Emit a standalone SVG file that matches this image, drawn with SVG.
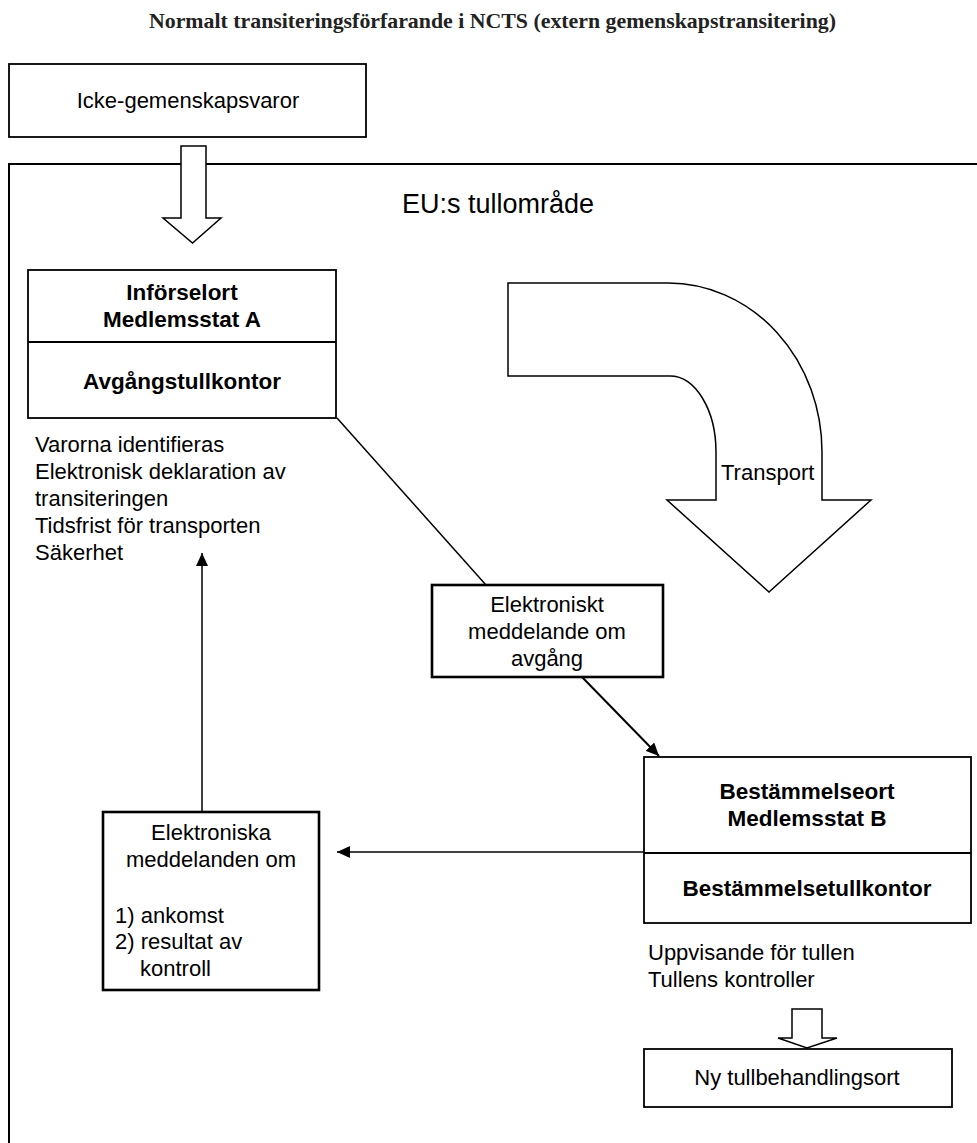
<svg xmlns="http://www.w3.org/2000/svg" width="977" height="1143" viewBox="0 0 977 1143">
<defs>
<style>
.t{font-family:"Liberation Sans",Arial,sans-serif;font-size:22px;fill:#000}
.b{font-weight:bold;font-size:22.5px}
.m{text-anchor:middle}
.box{fill:#fff;stroke:#000;stroke-width:1.8}
.thick{fill:#fff;stroke:#000;stroke-width:2.6}
.blk{fill:#fff;stroke:#000;stroke-width:1.5;stroke-linejoin:miter}
.ln{stroke:#000;stroke-width:1.5;fill:none}
</style>
<marker id="ah" markerUnits="userSpaceOnUse" markerWidth="14" markerHeight="12" refX="13" refY="6" orient="auto">
<path d="M0,0 L13,6 L0,12 z" fill="#000"/>
</marker>
</defs>
<rect width="977" height="1143" fill="#fff"/>
<text x="149" y="28" font-family="'Liberation Serif','Times New Roman',serif" font-weight="bold" font-size="21" fill="#222" textLength="687" lengthAdjust="spacingAndGlyphs">Normalt transiteringsförfarande i NCTS (extern gemenskapstransitering)</text>

<g id="eu-frame">
<path d="M977,164 L9,164 L9,1143" fill="none" stroke="#000" stroke-width="2"/>
<text class="t m" x="498" y="213" style="font-size:27px">EU:s tullområde</text>
</g>

<g id="icke">
<rect class="box" x="9" y="64" width="357" height="73"/>
<text class="t m" x="188" y="108">Icke-gemenskapsvaror</text>
</g>

<g id="entry-arrow">
<path class="blk" d="M181,146 L206,146 L206,218 L221,218 L192.5,243 L163,218 L181,218 Z"/>
</g>

<g id="inforselort">
<rect class="box" x="28" y="270" width="308" height="148"/>
<line class="ln" x1="28" y1="342" x2="336" y2="342" style="stroke-width:1.8"/>
<text class="t b m" x="182" y="300">Införselort</text>
<text class="t b m" x="182" y="327">Medlemsstat A</text>
<text class="t b m" x="182" y="389">Avgångstullkontor</text>
</g>

<g id="departure-notes">
<text class="t" x="35" y="452">Varorna identifieras</text>
<text class="t" x="35" y="479">Elektronisk deklaration av</text>
<text class="t" x="35" y="506">transiteringen</text>
<text class="t" x="35" y="533">Tidsfrist för transporten</text>
<text class="t" x="35" y="560">Säkerhet</text>
</g>

<g id="transport">
<path class="blk" d="M508,283 L668,283 A154,169 0 0 1 822,452 L822,500 L871,500 L769,592 L667,500 L716,500 L716,452 A46,76 0 0 0 670,376 L508,376 Z"/>
<text class="t" x="721" y="480">Transport</text>
</g>

<g id="msg-avgang">
<rect class="thick" x="432" y="585" width="231" height="92"/>
<text class="t m" x="547" y="612">Elektroniskt</text>
<text class="t m" x="547" y="639">meddelande om</text>
<text class="t m" x="547" y="666">avgång</text>
</g>

<g id="bestammelseort">
<rect class="box" x="644" y="757" width="327" height="166"/>
<line class="ln" x1="644" y1="853" x2="971" y2="853" style="stroke-width:1.8"/>
<text class="t b m" x="807" y="799">Bestämmelseort</text>
<text class="t b m" x="807" y="826">Medlemsstat B</text>
<text class="t b m" x="807" y="896">Bestämmelsetullkontor</text>
</g>

<g id="arrival-notes">
<text class="t" x="648" y="960">Uppvisande för tullen</text>
<text class="t" x="648" y="987">Tullens kontroller</text>
</g>

<g id="msg-ankomst">
<rect class="thick" x="103" y="812" width="216" height="178"/>
<text class="t m" x="211" y="840">Elektroniska</text>
<text class="t m" x="211" y="867">meddelanden om</text>
<text class="t" x="115" y="923">1) ankomst</text>
<text class="t" x="115" y="949">2) resultat av</text>
<text class="t" x="140" y="976">kontroll</text>
</g>

<g id="exit-arrow">
<path class="blk" d="M792,1009 L822,1009 L822,1038 L837,1038 L807,1048 L778,1038 L792,1038 Z"/>
</g>

<g id="ny">
<rect class="box" x="644" y="1049" width="308" height="58"/>
<text class="t m" x="797" y="1085">Ny tullbehandlingsort</text>
</g>

<g id="connectors">
<line class="ln" x1="337" y1="418" x2="486" y2="585"/>
<line class="ln" x1="582" y1="677" x2="659" y2="756" marker-end="url(#ah)" style="stroke-width:2"/>
<line class="ln" x1="644" y1="852" x2="337" y2="852" marker-end="url(#ah)"/>
<line class="ln" x1="202" y1="812" x2="202" y2="553" marker-end="url(#ah)"/>
</g>
</svg>
